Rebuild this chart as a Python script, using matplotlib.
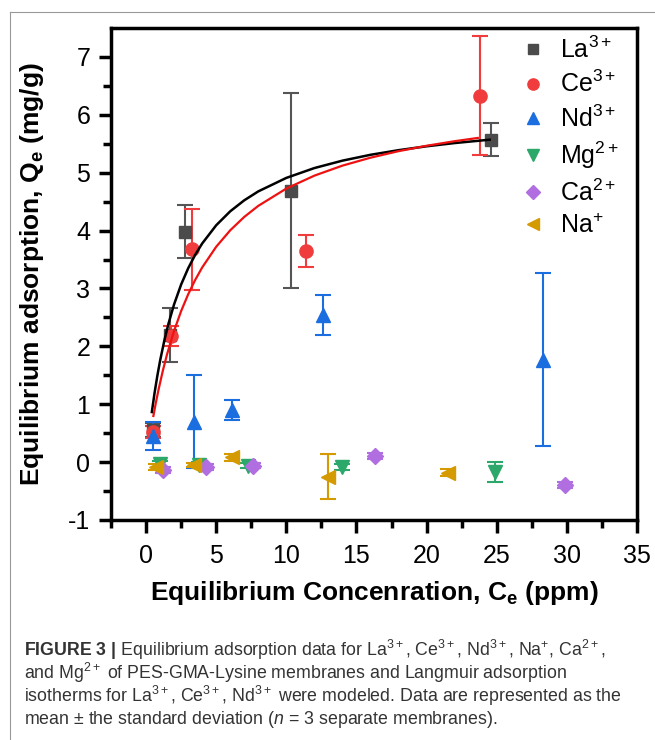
import matplotlib
matplotlib.use('Agg')
import matplotlib.pyplot as plt
from matplotlib.lines import Line2D
from matplotlib import font_manager

plt.rcParams['font.family'] = ['Liberation Sans', 'DejaVu Sans']
plt.rcParams['axes.unicode_minus'] = False
plt.rcParams['mathtext.fontset'] = 'custom'
plt.rcParams['mathtext.rm'] = 'Liberation Sans'
plt.rcParams['mathtext.it'] = 'Liberation Sans:italic'
plt.rcParams['mathtext.bf'] = 'Liberation Sans:bold'

# --- data ---
la_x = [0.5, 1.7, 2.8, 10.3, 24.6]
la_y = [0.55, 2.2, 3.98, 4.69, 5.57]
la_err = [0.12, 0.47, 0.46, 1.68, 0.29]

ce_x = [0.5, 1.75, 3.25, 11.4, 23.8]
ce_y = [0.52, 2.18, 3.68, 3.65, 6.33]
ce_err = [0.10, 0.17, 0.70, 0.28, 1.03]

nd_x = [0.5, 3.4, 6.1, 12.6, 28.3]
nd_y = [0.45, 0.70, 0.90, 2.54, 1.77]
nd_err = [0.24, 0.80, 0.17, 0.34, 1.50]

mg_x = [1.0, 3.8, 7.3, 14.0, 24.9]
mg_y = [-0.03, -0.05, -0.06, -0.08, -0.17]
mg_err = [0.05, 0.05, 0.05, 0.05, 0.18]

ca_x = [1.2, 4.3, 7.6, 16.3, 29.9]
ca_y = [-0.14, -0.08, -0.06, 0.11, -0.40]
ca_err = [0.05, 0.05, 0.05, 0.05, 0.05]

na_x = [0.7, 3.4, 6.1, 13.0, 21.5]
na_y = [-0.08, -0.05, 0.08, -0.25, -0.18]
na_err = [0.05, 0.04, 0.06, 0.39, 0.06]

# Langmuir fit curves
la_fit_x = [0.41, 0.6, 0.8, 1.0, 1.3, 1.6, 2.0, 2.5, 3.0, 3.5, 4.0, 5.0, 6.0, 7.0, 8.0,
            10, 12, 14, 16, 18, 20, 22, 24.5]
la_fit_y = [0.865, 1.188, 1.488, 1.754, 2.100, 2.395, 2.728, 3.069, 3.348, 3.581, 3.777,
            4.092, 4.333, 4.523, 4.677, 4.910, 5.080, 5.208, 5.309, 5.389, 5.456, 5.512, 5.570]
ce_fit_x = [0.52, 0.7, 0.9, 1.2, 1.5, 2.0, 2.5, 3.0, 3.5, 4.0, 5.0, 6.0, 7.0, 8.0,
            10, 12, 14, 16, 18, 20, 22, 23.65]
ce_fit_y = [0.797, 1.030, 1.266, 1.585, 1.867, 2.271, 2.610, 2.899, 3.147, 3.363, 3.721,
            4.005, 4.236, 4.427, 4.726, 4.949, 5.122, 5.259, 5.372, 5.465, 5.544, 5.600]

series = [
    ('La$^{3+}$', la_x, la_y, la_err, 's', '#4b4b4b', '#555555'),
    ('Ce$^{3+}$', ce_x, ce_y, ce_err, 'o', '#f03c3c', '#f03c3c'),
    ('Nd$^{3+}$', nd_x, nd_y, nd_err, '^', '#1a6ee0', '#1a6ee0'),
    ('Mg$^{2+}$', mg_x, mg_y, mg_err, 'v', '#2ca86a', '#2ca86a'),
    ('Ca$^{2+}$', ca_x, ca_y, ca_err, 'D', '#b06ee0', '#b06ee0'),
    ('Na$^{+}$', na_x, na_y, na_err, '<', '#d49a00', '#d49a00'),
]
msize = {'s': 9, 'o': 9.5, '^': 10.5, 'v': 10.5, 'D': 8.5, '<': 10.5}

fig = plt.figure(figsize=(6.55, 7.40), dpi=100)
ax = fig.add_axes([0.1695, 0.2973, 0.9725 - 0.1695, 0.9622 - 0.2973])

handles = []
for label, x, y, err, mk, col, ecol in series:
    ax.errorbar(x, y, yerr=err, fmt=mk, color=col, ecolor=ecol, ms=msize[mk],
                mec=col, elinewidth=1.5, capsize=5.5, capthick=1.5, zorder=3)
    handles.append(Line2D([], [], ls='none', marker=mk, color=col, ms=msize[mk] * 0.85,
                          label=label))

ax.plot(la_fit_x, la_fit_y, color='black', lw=1.8, zorder=4)
ax.plot(ce_fit_x, ce_fit_y, color='#ee1111', lw=1.6, zorder=4)

ax.set_xlim(-2.5, 35)
ax.set_ylim(-1, 7.5)
ax.set_xticks(range(0, 36, 5))
ax.set_xticks([x * 2.5 for x in range(-1, 15)], minor=True)
ax.set_yticks(range(-1, 8))
ax.set_yticks([y * 0.5 for y in range(-2, 15)], minor=True)
ax.tick_params(which='major', direction='out', length=9, width=2.5, labelsize=18)
ax.tick_params(axis='x', which='major', pad=8)
ax.tick_params(axis='y', which='major', pad=6)
ax.tick_params(which='minor', direction='out', length=5.5, width=2.5)
for sp in ax.spines.values():
    sp.set_linewidth(2.5)

ax.set_xlabel(r'Equilibrium Concenration, C$_\mathbf{e}$ (ppm)', fontsize=19,
              fontweight='bold', labelpad=8)
ax.set_ylabel(r'Equilibrium adsorption, Q$_\mathbf{e}$ (mg/g)', fontsize=19,
              fontweight='bold', labelpad=16)

ax.legend(handles=handles, loc='upper right', frameon=False, fontsize=18,
          handletextpad=0.5, labelspacing=0.32, borderaxespad=0.1, handlelength=1.2,
          bbox_to_anchor=(0.99, 1.008))

# thin frame on left and top of the panel
fig.add_artist(Line2D([10 / 655, 10 / 655], [0, 1 - 12 / 740], color='#999999', lw=0.8))
fig.add_artist(Line2D([10 / 655, 1], [1 - 12 / 740, 1 - 12 / 740], color='#999999', lw=0.8))

# narrow face for the caption if it is installed
names = {f.name for f in font_manager.fontManager.ttflist}
cap_family = ['Liberation Sans Narrow'] if 'Liberation Sans Narrow' in names else ['Liberation Sans']
cap_size = 14.5 if 'Liberation Sans Narrow' in names else 12.8

cap_lines = [
    r'$\mathbf{FIGURE\ 3\ |}$ Equilibrium adsorption data for La$^{3+}$, Ce$^{3+}$, '
    r'Nd$^{3+}$, Na$^{+}$, Ca$^{2+}$,',
    r'and Mg$^{2+}$ of PES-GMA-Lysine membranes and Langmuir adsorption',
    r'isotherms for La$^{3+}$, Ce$^{3+}$, Nd$^{3+}$ were modeled. Data are represented as the',
    r'mean $\pm$ the standard deviation ($n$ = 3 separate membranes).',
]
for i, line in enumerate(cap_lines):
    fig.text(24 / 655, 1 - (650 + 23 * i) / 740, line, fontsize=cap_size, color='#333333',
             va='center', ha='left', family=cap_family)

fig.savefig('out.png', dpi=100)
